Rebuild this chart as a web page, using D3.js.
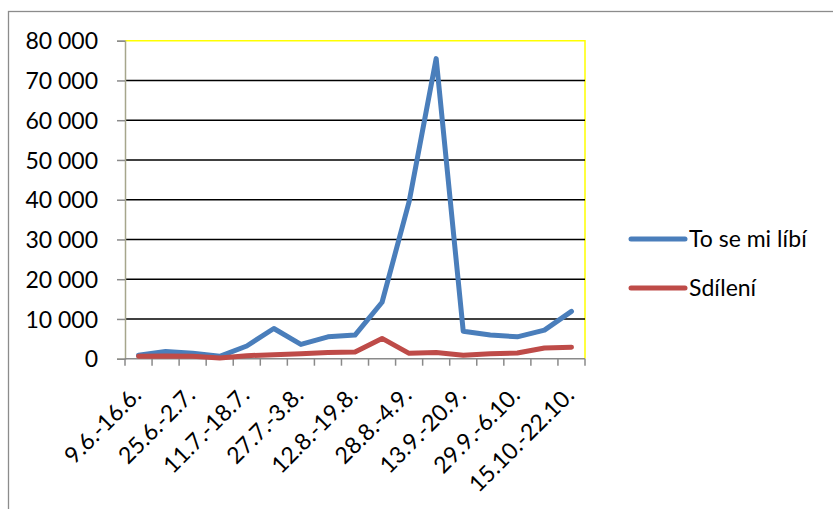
<!DOCTYPE html>
<html>
<head>
<meta charset="utf-8">
<script src="https://cdn.jsdelivr.net/npm/d3@7/dist/d3.min.js"></script>
<style>
html,body{margin:0;padding:0;background:#fff;}
svg{display:block;}
text{font-family:Lato,"Open Sans",sans-serif;fill:#000;}
</style>
</head>
<body>
<svg id="chart" width="833" height="509"></svg>
<script>
const categories = ["9.6.-16.6.","17.6.-24.6.","25.6.-2.7.","3.7.-10.7.","11.7.-18.7.","19.7.-26.7.","27.7.-3.8.","4.8.-11.8.","12.8.-19.8.","20.8.-27.8.","28.8.-4.9.","5.9.-12.9.","13.9.-20.9.","21.9.-28.9.","29.9.-6.10.","7.10.-14.10.","15.10.-22.10."];
const likes = [850,1800,1400,600,3200,7600,3600,5500,5950,14200,39500,75500,6900,5950,5500,7200,11900];
const shares = [600,680,600,200,760,1000,1270,1550,1700,5100,1350,1550,850,1270,1450,2700,2900];
const seriesNames = ["To se mi líbí","Sdílení"];
const seriesColors = ["#4a7ebb","#be4b48"];
const yTicks = [0,10000,20000,30000,40000,50000,60000,70000,80000];
const xTickLabels = categories.filter((d,i)=>i%2===0);

const svg = d3.select("#chart");
const L = 125, R = 585, T = 40.7, B = 358.7;

// outer chart border
svg.append("rect").attr("x",8.5).attr("y",11.5).attr("width",900).attr("height",600)
  .attr("fill","none").attr("stroke","#8c8c8c").attr("stroke-width",1.3);

const x = d3.scaleBand().domain(categories).range([L,R]).paddingInner(0).paddingOuter(0);
const y = d3.scaleLinear().domain([0,80000]).range([B,T]);

const fmt = d3.formatLocale({decimal:",",thousands:" ",grouping:[3],currency:["","" ]}).format(",");

// plot area border (top/right yellow)
svg.append("path").attr("d",`M${L},${T}H${R}V${B}`).attr("fill","none")
  .attr("stroke","#ffff00").attr("stroke-width",1.5);

// gridlines
svg.append("g").selectAll("line").data(yTicks.filter(d=>d>0 && d<80000)).join("line")
  .attr("x1",L).attr("x2",R).attr("y1",d=>y(d)).attr("y2",d=>y(d))
  .attr("stroke","#000").attr("stroke-width",1.6);

// y axis
const yAxis = d3.axisLeft(y).tickValues(yTicks).tickSize(8).tickPadding(19).tickFormat(fmt);
const gy = svg.append("g").attr("transform",`translate(${L},0)`).call(yAxis);
gy.select(".domain").attr("stroke","#a6a68c").attr("stroke-width",1.5);
gy.selectAll(".tick line").attr("stroke","#8a8a8a").attr("stroke-width",1.5);
gy.selectAll(".tick text").attr("font-size",23).attr("font-family","Lato").attr("fill","#000").attr("dy","0.35em");

// x axis ticks at band boundaries
const bounds = categories.map(c=>x(c)).concat([R]);
const gx = svg.append("g");
gx.append("line").attr("x1",L).attr("x2",R).attr("y1",B).attr("y2",B).attr("stroke","#8a8a8a").attr("stroke-width",1.5);
gx.selectAll("line.tk").data(bounds).join("line").attr("class","tk")
  .attr("x1",d=>d).attr("x2",d=>d).attr("y1",B).attr("y2",B+7)
  .attr("stroke","#8a8a8a").attr("stroke-width",1.5);
gx.selectAll("text").data(xTickLabels).join("text")
  .attr("transform",d=>`translate(${x(d)+x.bandwidth()/2+4},${B+38}) rotate(-45)`)
  .attr("text-anchor","end").attr("font-size",23).text(d=>d);

// lines
const series = [likes, shares];
const line = d3.line().x((d,i)=>x(categories[i])+x.bandwidth()/2).y(d=>y(d));
series.forEach((s,k)=>{
  svg.append("path").datum(s).attr("d",line).attr("fill","none")
    .attr("stroke",seriesColors[k]).attr("stroke-width",5)
    .attr("stroke-linejoin","round").attr("stroke-linecap","round");
});

// legend
const lg = svg.append("g");
seriesNames.forEach((n,k)=>{
  const ly = 239 + k*49;
  lg.append("line").attr("x1",631).attr("x2",685).attr("y1",ly).attr("y2",ly)
    .attr("stroke",seriesColors[k]).attr("stroke-width",5).attr("stroke-linecap","round");
  lg.append("text").attr("x",689).attr("y",ly).attr("dy","0.35em").attr("font-size",23).text(n);
});
</script>
</body>
</html>
